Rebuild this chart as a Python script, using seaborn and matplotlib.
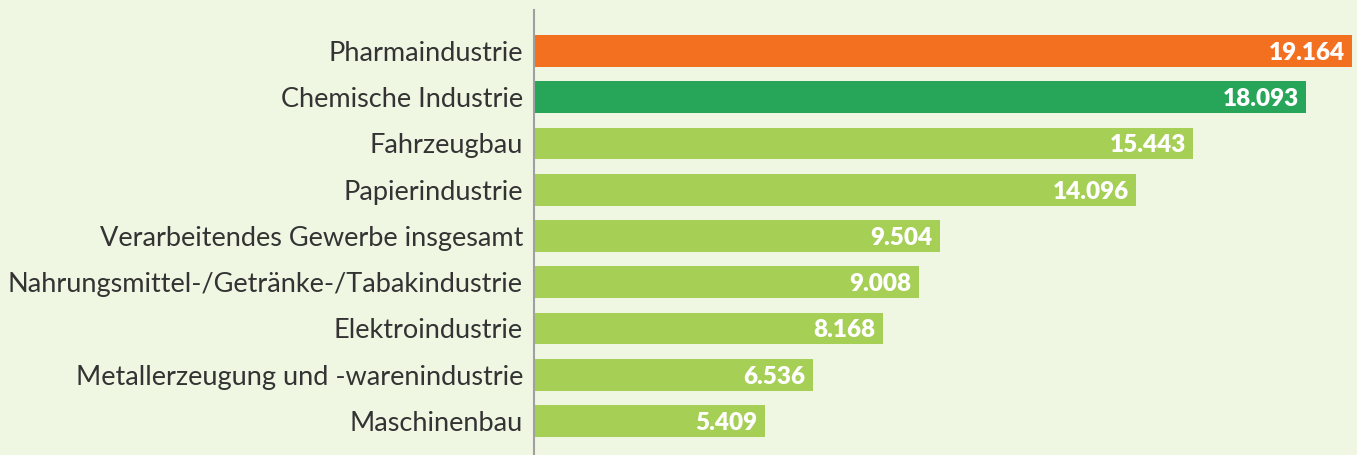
import matplotlib
matplotlib.use("Agg")
import matplotlib.pyplot as plt
import seaborn as sns
import pandas as pd

categories = [
    "Pharmaindustrie",
    "Chemische Industrie",
    "Fahrzeugbau",
    "Papierindustrie",
    "Verarbeitendes Gewerbe insgesamt",
    "Nahrungsmittel-/Getränke-/Tabakindustrie",
    "Elektroindustrie",
    "Metallerzeugung und -warenindustrie",
    "Maschinenbau",
]
values = [19.164, 18.093, 15.443, 14.096, 9.504, 9.008, 8.168, 6.536, 5.409]
value_labels = ["19.164", "18.093", "15.443", "14.096", "9.504", "9.008", "8.168", "6.536", "5.409"]

ORANGE = "#F37021"
DARKGREEN = "#27A558"
LIGHTGREEN = "#A5CF55"
BG = "#EFF6E2"
colors = [ORANGE, DARKGREEN] + [LIGHTGREEN] * 7

df = pd.DataFrame({"cat": categories, "val": values})

sns.set_style("white")
plt.rcParams["font.family"] = ["Lato", "DejaVu Sans"]

fig = plt.figure(figsize=(13.57, 4.55), dpi=100, facecolor=BG)
ax = fig.add_axes([534 / 1357, 0, 1 - 534 / 1357, 1 - 10 / 455])
ax.set_facecolor(BG)

sns.barplot(data=df, x="val", y="cat", hue="cat", palette=colors, legend=False,
            orient="h", width=0.69, ax=ax, saturation=1, linewidth=0)

ax.set_xlim(0, 19.28)
ax.set_ylim(8.735, -0.886)
ax.set_xlabel("")
ax.set_ylabel("")
ax.set_xticks([])
for s in ["top", "right", "bottom"]:
    ax.spines[s].set_visible(False)
ax.spines["left"].set_color("#A0A0A0")
ax.spines["left"].set_linewidth(1.5)
ax.tick_params(axis="y", length=0, pad=8, labelsize=19.5, labelcolor="#333333")

for i, (v, lab) in enumerate(zip(values, value_labels)):
    ax.text(v - 0.17, i, lab, ha="right", va="center_baseline", color="white",
            fontsize=17.5, fontweight="heavy")

fig.savefig("out.png", dpi=100, facecolor=BG)
